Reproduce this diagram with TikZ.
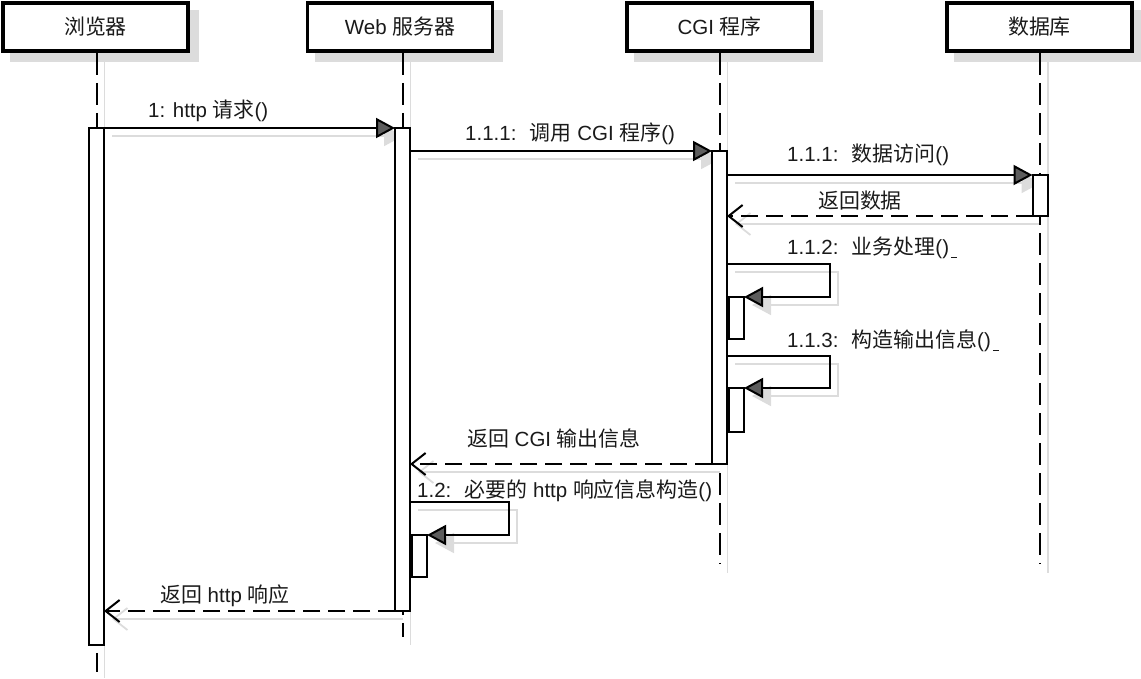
\documentclass[tikz,border=0pt]{standalone}
\usepackage{fontspec}
\setmainfont{Liberation Sans}
\newfontfamily\cjk{Noto Sans CJK SC}[Scale=1.02]
\newcommand\zh[1]{{\cjk #1}}
\usetikzlibrary{arrows.meta}
\pgfdeclarelayer{shadowlayer}
\pgfdeclarelayer{linelayer}
\pgfsetlayers{shadowlayer,linelayer,main}
\definecolor{shadowc}{HTML}{DCDCDC}
\definecolor{tipfill}{HTML}{5C5C5C}
\definecolor{ink}{HTML}{1A1A1A}

\begin{document}
\begin{tikzpicture}[x=1pt,y=-1pt,
  font=\fontsize{20.5}{24}\selectfont,
  head/.style={draw=black, line width=3.8pt, fill=white, minimum width=185pt,
    minimum height=48pt, inner sep=0pt, text=ink},
  bar/.style={draw=black, line width=2pt, fill=white, minimum width=15pt,
    inner sep=0pt, outer sep=0pt, anchor=north},
  lifeline/.style={draw=black, line width=2pt, dash pattern=on 22pt off 8pt},
  lifeshadow/.style={draw=shadowc, line width=1.8pt},
  call/.style={draw=black, line width=2pt,
    -{Triangle[length=19pt,width=20pt,fill=tipfill]}},
  reply/.style={draw=black, line width=2pt, dash pattern=on 17pt off 8pt,
    -{Straight Barb[length=14pt,width=22pt]}},
  callshadow/.style={draw=shadowc, line width=1.8pt,
    -{Triangle[length=19pt,width=20pt,fill=shadowc]},
    transform canvas={shift={(8pt,-8pt)}}},
  replyshadow/.style={draw=shadowc, line width=1.8pt,
    -{Straight Barb[length=14pt,width=22pt]},
    transform canvas={shift={(8pt,-8pt)}}},
  lbl/.style={anchor=base west, inner sep=0pt, text=ink},
]
\useasboundingbox (0,0) rectangle (1141,678);

% participants
\node[head] (b) at (95.5,27) {\zh{浏览器}};
\node[head] (w) at (400,27) {Web \zh{服务器}};
\node[head] (c) at (719.5,27) {CGI \zh{程序}};
\node[head] (d) at (1039.5,27) {\zh{数据库}};

% activation bars
\node[bar, minimum height=517pt] (ab) at (96.5,128) {};
\node[bar, minimum height=483pt] (aw) at (402.5,128) {};
\node[bar, minimum height=313pt] (ac) at (719.5,151) {};
\node[bar, minimum height=41pt] (ad) at (1040,175) {};
\node[bar, minimum height=42pt] (ac2) at (736.5,297) {};
\node[bar, minimum height=44pt] (ac3) at (736.5,388) {};
\node[bar, minimum height=42pt] (aw2) at (419.5,535) {};

% lifeline ends and self-call corners
\coordinate (bTop) at (ab |- b.south);
\coordinate (wTop) at (aw |- w.south);
\coordinate (cTop) at (ac |- c.south);
\coordinate (dTop) at (ad |- d.south);
\coordinate (bEnd) at (96.5,672);
\coordinate (wEnd) at (402.5,637);
\coordinate (cEnd) at (719.5,563);
\coordinate (dEnd) at (1040,563);
\coordinate (s1a) at (830,264);
\coordinate (s1b) at (830,297);
\coordinate (s2a) at (830,356);
\coordinate (s2b) at (830,388);
\coordinate (s3a) at (509,502);
\coordinate (s3b) at (509,535);

% lifelines
\begin{pgfonlayer}{linelayer}
\draw[lifeline] (bTop) -- (bEnd);
\draw[lifeline] (wTop) -- (wEnd);
\draw[lifeline] (cTop) -- (cEnd);
\draw[lifeline] (dTop) -- (dEnd);
\end{pgfonlayer}

% drop shadows
\begin{pgfonlayer}{shadowlayer}
\foreach \n in {b,w,c,d}
  \fill[shadowc] ([shift={(9,9)}]\n.north west) rectangle ([shift={(9,9)}]\n.south east);
\draw[lifeshadow] ([shift={(8,9)}]bTop) -- ([shift={(8,6)}]bEnd);
\draw[lifeshadow] ([shift={(8,9)}]wTop) -- ([shift={(8,8)}]wEnd);
\draw[lifeshadow] ([shift={(8,9)}]cTop) -- ([shift={(8,10)}]cEnd);
\draw[lifeshadow] ([shift={(8,9)}]dTop) -- ([shift={(8,10)}]dEnd);
\draw[callshadow] (ab.north east) -- (aw.north west);
\draw[callshadow] (aw.east |- ac.north) -- (ac.north west);
\draw[callshadow] (ac.east |- ad.north) -- (ad.north west);
\draw[replyshadow] (ad.south west) -- (ac.east |- ad.south);
\draw[callshadow] (ac.east |- s1a) -- (s1a) -- (s1b) -- (ac2.north east);
\draw[callshadow] (ac.east |- s2a) -- (s2a) -- (s2b) -- (ac3.north east);
\draw[replyshadow] (ac.south west) -- (aw.east |- ac.south);
\draw[callshadow] (aw.east |- s3a) -- (s3a) -- (s3b) -- (aw2.north east);
\draw[replyshadow] (aw.south west) -- (ab.east |- aw.south);
\end{pgfonlayer}

% messages
\draw[call] (ab.north east) -- (aw.north west);
\draw[call] (aw.east |- ac.north) -- (ac.north west);
\draw[call] (ac.east |- ad.north) -- (ad.north west);
\draw[reply] (ad.south west) -- (ac.east |- ad.south);
\draw[call] (ac.east |- s1a) -- (s1a) -- (s1b) -- (ac2.north east);
\draw[call] (ac.east |- s2a) -- (s2a) -- (s2b) -- (ac3.north east);
\draw[reply] (ac.south west) -- (aw.east |- ac.south);
\draw[call] (aw.east |- s3a) -- (s3a) -- (s3b) -- (aw2.north east);
\draw[reply] (aw.south west) -- (ab.east |- aw.south);

% message labels
\node[lbl] (t1) at (148,117) {1: http \zh{请求}()};
\node[lbl] (t2) at (465,140) {1.1.1:~ \zh{调用} CGI \zh{程序}()};
\node[lbl] (t3) at (787,161) {1.1.1:~ \zh{数据访问}()};
\node[lbl] (t4) at (818,208) {\zh{返回数据}};
\node[lbl] (t5) at (787,254) {1.1.2:~ \zh{业务处理}()\kern2pt\rule[-4pt]{6pt}{1.2pt}};
\node[lbl] (t6) at (787,347) {1.1.3:~ \zh{构造输出信息}()\kern2pt\rule[-4pt]{6pt}{1.2pt}};
\node[lbl] (t7) at (467,446) {\zh{返回} CGI \zh{输出信息}};
\node[lbl] (t8) at (417,497) {1.2:~ \zh{必要的} http \zh{响应信息构造}()};
\node[lbl] (t9) at (160,602) {\zh{返回} http \zh{响应}};
\end{tikzpicture}
\end{document}
